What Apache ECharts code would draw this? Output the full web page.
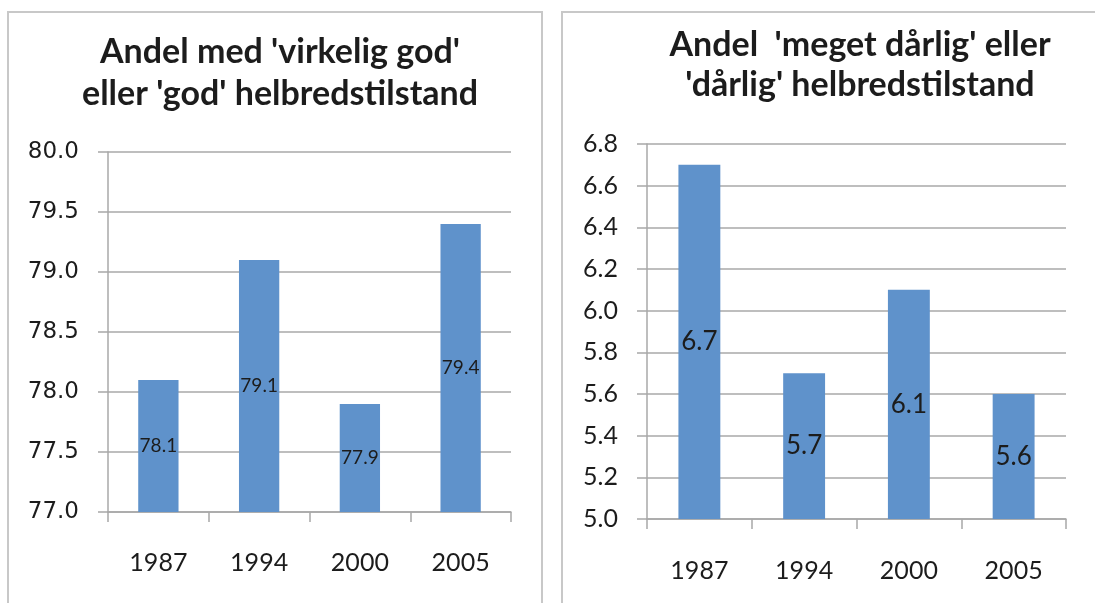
<!DOCTYPE html>
<html>
<head>
<meta charset="utf-8">
<script src="https://cdn.jsdelivr.net/npm/echarts@6/dist/echarts.min.js"></script>
<style>
  html, body { margin: 0; padding: 0; background: #fff; }
  #chart { width: 1095px; height: 603px; }
</style>
</head>
<body>
<div id="chart"></div>
<script>
// data
const years = ['1987', '1994', '2000', '2005']
const godValues = [78.1, 79.1, 77.9, 79.4]
const darligValues = [6.7, 5.7, 6.1, 5.6]
const godAxis = { min: 77, max: 80, interval: 0.5 }
const darligAxis = { min: 5, max: 6.8, interval: 0.2 }

const barColor = '#5f92cb'
const lineColor = '#a8a8a8'
const textColor = '#1c1c1c'
const font = 'Lato, "Open Sans", sans-serif'

const chart = echarts.init(document.getElementById('chart'))

function xAxis(gridIndex, size, margin) {
  return {
    type: 'category',
    gridIndex: gridIndex,
    data: years,
    axisLine: { lineStyle: { color: lineColor, width: 1.5 } },
    axisTick: { show: true, length: 10, alignWithLabel: false, lineStyle: { color: lineColor, width: 1.5 } },
    axisLabel: { color: textColor, fontFamily: font, fontSize: size, margin: margin }
  }
}

function yAxis(gridIndex, range, size, family) {
  return {
    type: 'value',
    gridIndex: gridIndex,
    min: range.min,
    max: range.max,
    interval: range.interval,
    axisLine: { show: true, lineStyle: { color: lineColor, width: 1.5 } },
    axisTick: { show: true, length: 10, lineStyle: { color: lineColor, width: 1.5 } },
    splitLine: { lineStyle: { color: lineColor, width: 1.5 } },
    axisLabel: {
      color: textColor,
      fontFamily: family,
      fontSize: size,
      margin: 29,
      formatter: (v) => v.toFixed(1)
    }
  }
}

function barSeries(idx, values, size) {
  return {
    type: 'bar',
    xAxisIndex: idx,
    yAxisIndex: idx,
    data: values,
    barWidth: '40%',
    itemStyle: { color: barColor },
    label: {
      show: true,
      position: 'inside',
      color: textColor,
      fontFamily: font,
      fontSize: size,
      formatter: (p) => p.value.toFixed(1)
    },
    animation: false
  }
}

chart.setOption({
  animation: false,
  graphic: [
    { type: 'rect', shape: { x: 8, y: 12, width: 534, height: 620 }, style: { fill: 'none', stroke: '#c8c8c8', lineWidth: 2 } },
    { type: 'rect', shape: { x: 562, y: 12, width: 620, height: 620 }, style: { fill: 'none', stroke: '#c8c8c8', lineWidth: 2 } }
  ],
  title: [
    {
      text: "Andel med 'virkelig god'\neller 'god' helbredstilstand",
      left: 275,
      top: 26,
      textAlign: 'center',
      textStyle: { fontFamily: font, fontWeight: 'bold', fontSize: 34, lineHeight: 42, color: textColor }
    },
    {
      text: "Andel  'meget dårlig' eller\n'dårlig' helbredstilstand",
      left: 855,
      top: 20,
      textAlign: 'center',
      textStyle: { fontFamily: font, fontWeight: 'bold', fontSize: 34, lineHeight: 40, color: textColor }
    }
  ],
  grid: [
    { left: 108, top: 152, width: 403, height: 360 },
    { left: 647, top: 144, width: 419, height: 375 }
  ],
  xAxis: [xAxis(0, 25, 38), xAxis(1, 25, 39)],
  yAxis: [
    yAxis(0, godAxis, 23, '"DejaVu Sans", sans-serif'),
    yAxis(1, darligAxis, 25, font)
  ],
  series: [barSeries(0, godValues, 19), barSeries(1, darligValues, 26)]
})
</script>
</body>
</html>
